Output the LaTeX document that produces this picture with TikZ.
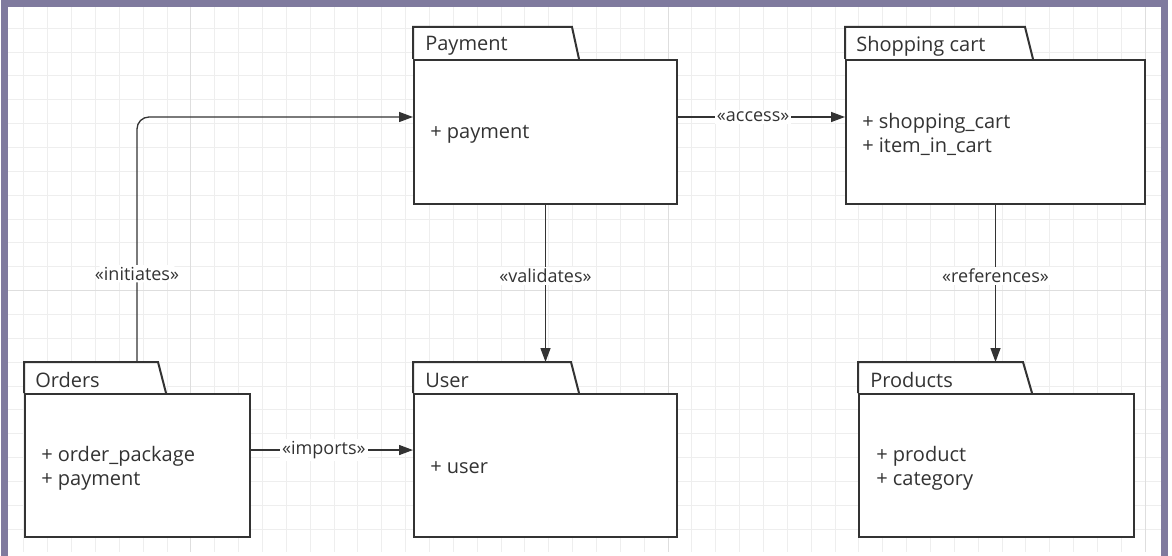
\documentclass[tikz,border=0pt]{standalone}
\usepackage{fontspec}
\setmainfont{Open Sans}
\usetikzlibrary{arrows.meta}
\definecolor{framecol}{RGB}{127,122,158}
\definecolor{inkcol}{RGB}{51,51,51}
\definecolor{gridminor}{RGB}{238,238,238}
\definecolor{gridmajor}{RGB}{222,222,222}

\begin{document}
\begin{tikzpicture}[x=0.75pt,y=0.75pt,yscale=-1,xscale=1,
  minorline/.style={draw=gridminor,line width=0.75pt},
  majorline/.style={draw=gridmajor,line width=0.75pt},
  pkgbody/.style={draw=inkcol,fill=white,line width=1.5pt,anchor=north west,inner sep=0pt},
  pkgtab/.style={draw=inkcol,fill=white,line width=1.5pt},
  pkgname/.style={anchor=west,inner sep=0.75pt,font=\fontsize{15}{18}\selectfont,text=inkcol},
  pkgitems/.style={anchor=west,inner sep=0.75pt,align=left,font=\fontsize{15}{18}\selectfont,text=inkcol},
  dep/.style={draw=inkcol,line width=1pt,-{Triangle[length=10.5pt,width=7.5pt]}},
  deplabel/.style={fill=white,inner sep=1.5pt,font=\fontsize{13.5}{16}\selectfont,text=inkcol}
]
\useasboundingbox (0,0) rectangle (1172,556);
\fill [white] (0,0) rectangle (1172,556);

%Grid
\foreach \i in {1,...,48} \draw [minorline] ({\i*23.86},7) -- ({\i*23.86},552);
\foreach \j in {1,...,22} \draw [minorline] (8,{4.4+\j*23.85}) -- (1161,{4.4+\j*23.85});
\foreach \i in {8,28,48} \draw [majorline] ({\i*23.86},7) -- ({\i*23.86},552);
\draw [majorline] (8,290.6) -- (1161,290.6);

%Frame
\draw [framecol,line width=5.25pt] (4,3.5) rectangle (1164.5,559.5);

%Shape: Package Payment
\draw [pkgtab] (413,59) -- (413,27) -- (572,27) -- (579,59) ;
\node [pkgbody,minimum width=197.25pt,minimum height=108pt] (payment) at (413,59) {};
%Shape: Package Shopping cart
\draw [pkgtab] (845,59) -- (845,27) -- (1025,27) -- (1033,59) ;
\node [pkgbody,minimum width=224.25pt,minimum height=108pt] (cart) at (845,59) {};
%Shape: Package Orders
\draw [pkgtab] (24,393) -- (24,362) -- (158,362) -- (166,393) ;
\node [pkgbody,minimum width=168.75pt,minimum height=107.25pt] (orders) at (24,393) {};
\coordinate (orderstab) at (137,362);
%Shape: Package User
\draw [pkgtab] (413,393) -- (413,362) -- (571,362) -- (579,393) ;
\node [pkgbody,minimum width=197.25pt,minimum height=107.25pt] (user) at (413,393) {};
\coordinate (usertab) at (413,362);
%Shape: Package Products
\draw [pkgtab] (858,393) -- (858,362) -- (1023,362) -- (1032,393) ;
\node [pkgbody,minimum width=206.25pt,minimum height=107.25pt] (products) at (858,393) {};
\coordinate (productstab) at (858,362);

% Text Node
\node [pkgname] (paymentname) at (424,46) {Payment};
\node [pkgitems] (paymentitems) at (429,134) {+ payment};
% Text Node
\node [pkgname] (cartname) at (855,46) {Shopping cart};
\node [pkgitems] (cartitems) at (861,134) {+ shopping\_cart\\+ item\_in\_cart};
% Text Node
\node [pkgname] (ordersname) at (34,380) {Orders};
\node [pkgitems] (ordersitems) at (40,468) {+ order\_package\\+ payment};
% Text Node
\node [pkgname] (username) at (424,380) {User};
\node [pkgitems] (useritems) at (429,468) {+ user};
% Text Node
\node [pkgname] (productsname) at (869,380) {Products};
\node [pkgitems] (productsitems) at (875,468) {+ product\\+ category};

%Connectors
\draw [dep] ([yshift=-11.25pt]payment.east) -- ([yshift=-11.25pt]cart.west) node [deplabel,pos=0.45] {«access»};
\draw [dep] ([yshift=-11.6pt]orders.east) -- ([yshift=-11.6pt]user.west) node [deplabel,pos=0.45] {«imports»};
\draw [dep] (payment.south) -- (payment.south |- usertab) node [deplabel,pos=0.45] {«validates»};
\draw [dep] (cart.south) -- (cart.south |- productstab) node [deplabel,pos=0.45] {«references»};
\draw [dep,rounded corners=9pt] (orderstab) |- ([yshift=-11.25pt]payment.west) node [deplabel,pos=0.18] {«initiates»};

\end{tikzpicture}
\end{document}
